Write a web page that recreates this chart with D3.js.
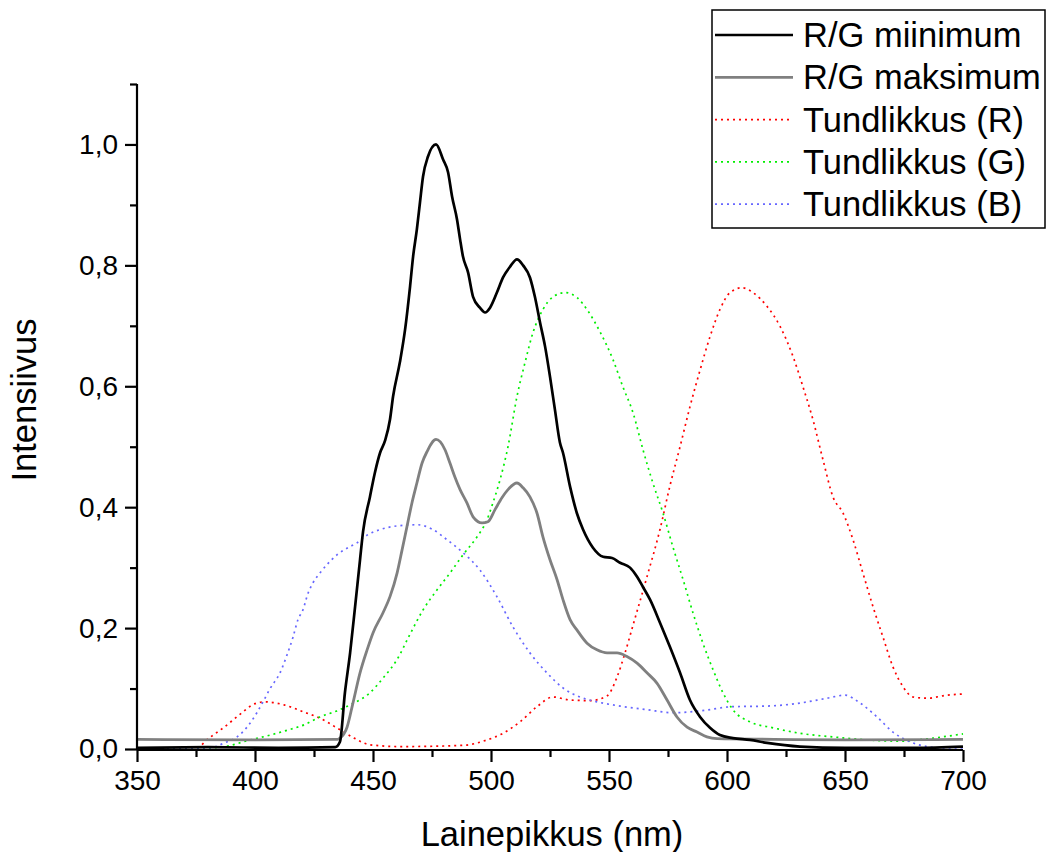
<!DOCTYPE html>
<html>
<head>
<meta charset="utf-8">
<script src="https://cdn.jsdelivr.net/npm/d3@7"></script>
<style>
  html, body { margin: 0; padding: 0; background: #fff; }
  svg { display: block; }
  text { font-family: "Liberation Sans", Arial, sans-serif; fill: #000; }
</style>
</head>
<body>
<svg id="chart" width="1046" height="852"></svg>
<script>
// ---- data (wavelength nm, intensity) ----
const rgMin = [[350,0.002],[380,0.003],[410,0.002],[434,0.003],[436,0.012],[438.1,0.093],[440.3,0.159],[442.4,0.235],[444.5,0.313],[445.8,0.36],[448.7,0.417],[450.8,0.457],[453,0.49],[455.1,0.51],[457.2,0.545],[458.5,0.583],[461.4,0.64],[463.6,0.694],[465.7,0.765],[467,0.815],[468.6,0.86],[469.9,0.904],[471.2,0.947],[473.3,0.98],[476.7,1.0],[479.7,0.975],[481.8,0.954],[483.5,0.914],[485.6,0.876],[486.9,0.843],[488.1,0.815],[490.3,0.788],[492.4,0.748],[495.3,0.73],[497.5,0.722],[499.6,0.73],[502.5,0.755],[505.1,0.78],[508.1,0.798],[511,0.81],[513.6,0.8],[516.5,0.78],[518.6,0.748],[520.8,0.705],[522.9,0.666],[525,0.616],[527.1,0.561],[529.2,0.507],[530.5,0.49],[533.5,0.434],[536.4,0.39],[539,0.363],[543.2,0.333],[547.5,0.318],[551.3,0.316],[554.7,0.308],[558.9,0.3],[561.9,0.285],[564.4,0.268],[567.4,0.247],[571.6,0.209],[575.8,0.169],[580.1,0.126],[584.3,0.081],[588.6,0.053],[592.8,0.035],[597,0.023],[602.5,0.018],[609.7,0.015],[617,0.01],[630.9,0.004],[650,0.002],[680,0.002],[700,0.004]];
const rgMax = [[350,0.016],[400,0.015],[435,0.016],[436,0.018],[439,0.036],[441.5,0.076],[444.5,0.126],[447.5,0.164],[450,0.192],[454.2,0.225],[457.2,0.252],[460.2,0.291],[462.3,0.329],[464.4,0.368],[466.5,0.407],[468.6,0.44],[470.8,0.473],[472.9,0.492],[476.7,0.512],[480.5,0.495],[482.6,0.473],[484.7,0.45],[486.9,0.429],[489.8,0.407],[492.4,0.384],[496.2,0.374],[498.7,0.376],[501.7,0.396],[504.7,0.416],[507.2,0.429],[511,0.44],[513.6,0.432],[516.5,0.417],[519.5,0.39],[522,0.351],[525,0.313],[528,0.28],[530.5,0.247],[533.5,0.214],[536.4,0.197],[540.7,0.175],[544.9,0.164],[549.2,0.159],[553.4,0.159],[557.6,0.153],[561.9,0.142],[566.1,0.126],[570.3,0.109],[574.6,0.081],[578.8,0.053],[583.1,0.036],[587.3,0.028],[591.5,0.02],[595.8,0.017],[620,0.016],[650,0.015],[700,0.016]];
const coneR = [[350,0.002],[375,0.002],[380.5,0.018],[386.9,0.036],[393.2,0.056],[400,0.075],[404.2,0.078],[412.3,0.073],[420.8,0.061],[427.5,0.051],[434.7,0.035],[442,0.018],[448.7,0.007],[461.4,0.004],[488,0.006],[498.3,0.015],[505.1,0.026],[512.3,0.045],[519.5,0.07],[526.3,0.086],[533.5,0.081],[542,0.08],[549.2,0.088],[553.4,0.119],[556.8,0.159],[560.2,0.205],[566.1,0.285],[571.6,0.363],[575.8,0.435],[580.1,0.5],[584.3,0.566],[588.6,0.627],[592.8,0.682],[597,0.727],[601.3,0.755],[606.4,0.763],[611,0.755],[617,0.732],[622.5,0.699],[628,0.649],[632.2,0.599],[636.4,0.545],[640.7,0.478],[644.9,0.417],[649.2,0.39],[653.4,0.346],[657.6,0.291],[661.9,0.235],[666.1,0.185],[670.3,0.136],[674.6,0.103],[678.8,0.086],[684.7,0.084],[693.2,0.089],[700,0.091]];
const coneG = [[350,0.002],[380,0.002],[387,0.004],[398,0.015],[406.4,0.023],[413.6,0.031],[420.8,0.04],[427.5,0.053],[434.7,0.063],[440.3,0.073],[448.7,0.093],[454.2,0.117],[460.2,0.148],[465.7,0.19],[471.2,0.23],[477.1,0.263],[482.6,0.291],[488.1,0.321],[494.1,0.351],[498.3,0.379],[500.8,0.407],[503.8,0.445],[507.2,0.5],[511,0.583],[514.4,0.639],[517.8,0.689],[522,0.727],[526.3,0.748],[531.4,0.755],[536.4,0.747],[541,0.725],[546.2,0.69],[551.7,0.644],[555.9,0.599],[560.2,0.556],[564.4,0.495],[568.6,0.44],[572.9,0.39],[577.1,0.334],[581.4,0.28],[585.6,0.225],[589.8,0.175],[594.1,0.131],[598.3,0.093],[602.5,0.065],[609.7,0.045],[619.5,0.035],[630.9,0.026],[644.9,0.02],[659.3,0.015],[673.3,0.013],[687.3,0.018],[700,0.025]];
const coneB = [[350,0.002],[380,0.002],[382.6,0.003],[386.9,0.01],[392.4,0.02],[396.6,0.036],[400.8,0.06],[403.8,0.081],[406.4,0.1],[410.6,0.126],[413.6,0.156],[416.1,0.185],[418.2,0.214],[420.3,0.23],[422.5,0.258],[424.6,0.275],[427.5,0.291],[430.5,0.305],[434.7,0.321],[439.4,0.333],[443.2,0.341],[448,0.355],[453,0.363],[460.2,0.369],[468.6,0.371],[475.4,0.363],[481.4,0.346],[488.1,0.325],[495.3,0.296],[502.5,0.252],[509.3,0.202],[516.5,0.159],[523.7,0.126],[530.5,0.101],[537.7,0.086],[544.9,0.078],[554.7,0.071],[566.1,0.065],[577.1,0.06],[588.6,0.063],[602.5,0.07],[617,0.071],[630.9,0.076],[642.4,0.084],[650,0.089],[656.4,0.076],[663.6,0.053],[670.3,0.028],[677.5,0.012],[684.7,0.004],[690,0.002],[700,0.002]];

const xTicks = [350, 400, 450, 500, 550, 600, 650, 700];
const yTicks = [0, 0.2, 0.4, 0.6, 0.8, 1.0];
const legendLabels = ["R/G miinimum", "R/G maksimum", "Tundlikkus (R)", "Tundlikkus (G)", "Tundlikkus (B)"];
const xTitle = "Lainepikkus (nm)";
const yTitle = "Intensiivus";

// ---- drawing ----
const svg = d3.select("#chart");
const x = d3.scaleLinear().domain([350, 700]).range([137, 963]);
const y = d3.scaleLinear().domain([0, 1.1]).range([749, 84]);

const series = [
  { data: rgMin, color: "#000000", width: 2.7, dash: null },
  { data: rgMax, color: "#808080", width: 2.8, dash: null },
  { data: coneR, color: "#ff0000", width: 1.7, dash: "2,4" },
  { data: coneG, color: "#00ee00", width: 1.7, dash: "2,4" },
  { data: coneB, color: "#6666ff", width: 1.7, dash: "2,4" }
];

const line = d3.line().x(d => x(d[0])).y(d => y(d[1])).curve(d3.curveMonotoneX);

const plot = svg.append("g");
[2,3,4,1,0].forEach(i => {
  const s = series[i];
  plot.append("path")
    .attr("d", line(s.data))
    .attr("fill", "none")
    .attr("stroke", s.color)
    .attr("stroke-width", s.width)
    .attr("stroke-dasharray", s.dash)
    .attr("stroke-linejoin", "round");
});

// axes
const fmt = d => d3.format(".1f")(d).replace(".", ",");
const xAxis = d3.axisBottom(x).tickValues(xTicks).tickSize(12).tickPadding(8).tickFormat(d3.format("d"));
const xMinor = d3.axisBottom(x).tickValues(d3.range(375, 700, 50)).tickSize(7).tickFormat("");
const yAxis = d3.axisLeft(y).tickValues(yTicks).tickSize(12).tickPadding(7).tickFormat(fmt);
const yMinor = d3.axisLeft(y).tickValues([0.1, 0.3, 0.5, 0.7, 0.9, 1.1]).tickSize(7).tickFormat("");

function styleAxis(g) {
  g.select(".domain").attr("stroke", "#000").attr("stroke-width", 2.2);
  g.selectAll(".tick line").attr("stroke", "#000").attr("stroke-width", 2.2);
  g.selectAll(".tick text").attr("font-size", 28).attr("font-family", "'Liberation Sans', Arial, sans-serif").attr("fill", "#000");
}
svg.append("g").attr("transform", "translate(0,750)").call(xMinor).call(styleAxis).select(".domain").remove();
svg.append("g").attr("transform", "translate(137,0)").call(yMinor).call(styleAxis).select(".domain").remove();
const gx = svg.append("g").attr("transform", "translate(0,750)").call(xAxis).call(styleAxis);
gx.select(".domain").attr("d", `M137,0H963`);
const gy = svg.append("g").attr("transform", "translate(137,0)").call(yAxis).call(styleAxis);
gy.select(".domain").attr("d", `M0,${y(1.1)}V750`);

// titles
svg.append("text").attr("x", 552).attr("y", 846).attr("text-anchor", "middle")
  .attr("font-size", 34.5).text(xTitle);
svg.append("text").attr("transform", "translate(36,400) rotate(-90)").attr("text-anchor", "middle")
  .attr("font-size", 34.5).text(yTitle);

// legend
const lg = svg.append("g");
lg.append("rect").attr("x", 712).attr("y", 10).attr("width", 333).attr("height", 218)
  .attr("fill", "#fff").attr("stroke", "#000").attr("stroke-width", 1.5);
legendLabels.forEach((lab, i) => {
  const cy = 35 + i * 42.3;
  const s = series[i];
  lg.append("line").attr("x1", 715).attr("x2", 793).attr("y1", cy).attr("y2", cy)
    .attr("stroke", s.color).attr("stroke-width", s.width).attr("stroke-dasharray", s.dash);
  lg.append("text").attr("x", 803).attr("y", cy).attr("dy", "0.35em")
    .attr("font-size", 34.5).text(lab);
});
</script>
</body>
</html>
